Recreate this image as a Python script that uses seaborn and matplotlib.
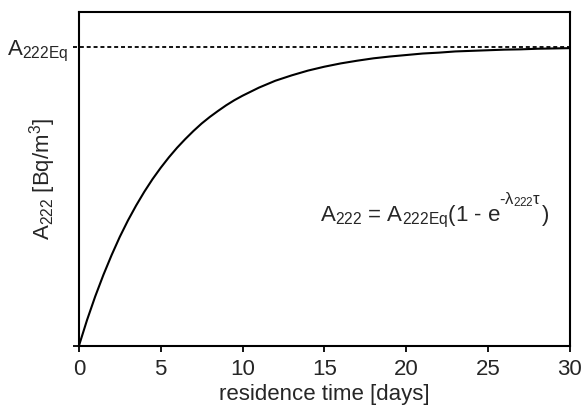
import matplotlib
matplotlib.use("Agg")
import matplotlib.pyplot as plt
import seaborn as sns
import pandas as pd

# Residence time (days) and relative Rn-222 activity A/A_eq
days = [0, 0.5, 1, 1.5, 2, 2.5, 3, 3.5, 4, 4.5, 5, 5.5, 6, 6.5, 7, 7.5, 8, 8.5,
        9, 9.5, 10, 11, 12, 13, 14, 15, 16, 17, 18, 19, 20, 21, 22, 23, 24, 25,
        26, 27, 28, 29, 30]
activity = [0.000, 0.087, 0.166, 0.238, 0.304, 0.365, 0.420, 0.470, 0.516, 0.558,
            0.596, 0.631, 0.663, 0.692, 0.719, 0.744, 0.766, 0.786, 0.805, 0.822,
            0.837, 0.864, 0.887, 0.905, 0.921, 0.934, 0.945, 0.954, 0.962, 0.968,
            0.973, 0.978, 0.981, 0.985, 0.987, 0.989, 0.991, 0.992, 0.994, 0.995,
            0.996]
x_ticks = [0, 5, 10, 15, 20, 25, 30]
equilibrium = 1.0

df = pd.DataFrame({"days": days, "activity": activity})

sns.set_style("ticks")
plt.rcParams["font.family"] = ["Liberation Sans", "DejaVu Sans"]
plt.rcParams["mathtext.fontset"] = "custom"
plt.rcParams["mathtext.rm"] = "Liberation Sans"
plt.rcParams["mathtext.it"] = "Liberation Sans"
plt.rcParams["mathtext.bf"] = "Liberation Sans:bold"
plt.rcParams["mathtext.default"] = "regular"

FS = 16

fig = plt.figure(figsize=(5.84, 4.12), dpi=100)
ax = fig.add_axes([0.135, 0.160, 0.841, 0.811])

sns.lineplot(data=df, x="days", y="activity", ax=ax, color="black", linewidth=1.5)
ax.axhline(equilibrium, color="black", linestyle=(0, (2.2, 1.6)), linewidth=1.3,
           clip_on=False, xmin=-0.012)

ax.set_xlim(0, 30)
ax.set_ylim(0, 1.117)
ax.set_xticks(x_ticks)
ax.set_xticklabels([str(t) for t in x_ticks], fontsize=FS)
ax.set_yticks([0, equilibrium])
ax.set_yticklabels(["", "A$_{222Eq}$"], fontsize=FS)
ax.tick_params(axis="both", direction="out", length=4, width=1.3, color="black")
ax.tick_params(axis="x", pad=5.5)
ax.tick_params(axis="y", pad=4)
ax.yaxis.get_major_ticks()[1].tick1line.set_visible(False)

for side in ["left", "right", "top", "bottom"]:
    ax.spines[side].set_visible(True)
    ax.spines[side].set_linewidth(1.5)
    ax.spines[side].set_color("black")

ax.set_xlabel("residence time [days]", fontsize=FS, labelpad=3)
ax.set_ylabel("A$_{222}$ [Bq/m$^3$]", fontsize=FS)
ax.yaxis.set_label_coords(-0.043, 0.5)

# Ingrowth equation, with the exponent set as a raised smaller text
eq_y = 0.418
t_main = ax.text(14.72, eq_y, "A$_{222}$ = A$_{222Eq}$(1 - e",
                 ha="left", va="baseline", fontsize=FS)
t_exp = ax.annotate("-λ$_{222}$τ", xy=(1, eq_y), xycoords=(t_main, "data"),
                    xytext=(-1.2, 12), textcoords="offset points",
                    ha="left", va="baseline", fontsize=12)
ax.annotate(")", xy=(1, eq_y), xycoords=(t_exp, "data"),
            xytext=(0.3, 0), textcoords="offset points",
            ha="left", va="baseline", fontsize=FS)

fig.savefig("out.png", dpi=100)
